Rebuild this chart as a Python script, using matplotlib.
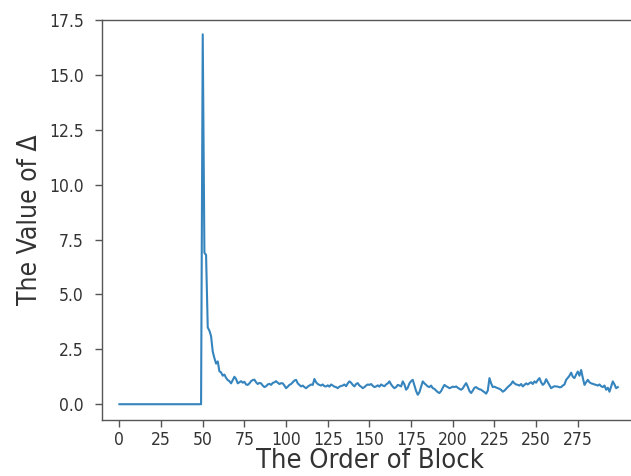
import matplotlib
matplotlib.use("Agg")
import matplotlib.pyplot as plt
import numpy as np

# Delta per block: flat until block 50, sharp spike, then a noisy plateau
delta_head = [0.0] * 50
delta_tail = [
    16.85, 6.9, 6.8, 3.5, 3.35, 3.1, 2.4, 2.1, 1.85, 1.95,
    1.5, 1.45, 1.3, 1.35, 1.2, 1.1, 1.05, 0.95, 1.1, 1.25,
    1.15, 0.95, 1.0, 1.05, 0.98, 1.02, 0.9, 0.88, 0.95, 1.05,
    1.1, 1.12, 1.0, 0.92, 0.97, 0.95, 0.85, 0.78, 0.82, 0.9,
    0.93, 0.88, 0.97, 1.0, 1.05, 0.98, 0.92, 0.96, 0.95, 0.85,
    0.73, 0.8, 0.88, 0.92, 1.0, 1.08, 1.11, 0.95, 0.88, 0.81,
    0.85, 0.78, 0.73, 0.8, 0.85, 0.9, 0.88, 1.15, 1.0, 0.92,
    0.88, 0.85, 0.9, 0.82, 0.81, 0.86, 0.8, 0.9, 0.85, 0.8,
    0.78, 0.73, 0.8, 0.83, 0.85, 0.9, 0.82, 0.95, 1.04, 0.98,
    0.88, 0.81, 0.92, 0.96, 0.85, 0.8, 0.73, 0.78, 0.85, 0.9,
    0.88, 0.92, 0.84, 0.78, 0.81, 0.86, 0.8, 0.9, 0.85, 0.82,
    0.9, 0.95, 1.04, 0.9, 0.8, 0.73, 0.78, 0.88, 0.85, 0.81,
    1.04, 0.9, 0.66, 0.75, 0.95, 1.05, 1.11, 0.85, 0.6, 0.43,
    0.55, 0.8, 1.04, 0.95, 0.88, 0.81, 0.78, 0.85, 0.73, 0.7,
    0.62, 0.55, 0.51, 0.6, 0.75, 0.88, 0.82, 0.78, 0.73, 0.76,
    0.8, 0.78, 0.81, 0.75, 0.7, 0.66, 0.72, 0.85, 0.96, 0.8,
    0.6, 0.51, 0.62, 0.75, 0.78, 0.72, 0.68, 0.66, 0.6, 0.55,
    0.48, 0.62, 1.19, 0.95, 0.78, 0.8, 0.76, 0.73, 0.7, 0.65,
    0.57, 0.62, 0.7, 0.78, 0.85, 0.92, 1.04, 0.95, 0.9, 0.88,
    0.85, 0.92, 0.81, 0.88, 0.95, 0.9, 0.96, 1.0, 0.92, 1.04,
    0.98, 1.1, 1.19, 1.0, 0.88, 0.95, 1.14, 1.0, 0.85, 0.73,
    0.78, 0.82, 0.81, 0.8, 0.77, 0.78, 0.85, 0.9, 1.11, 1.2,
    1.3, 1.44, 1.25, 1.19, 1.35, 1.49, 1.3, 1.56, 1.2, 0.88,
    1.0, 1.11, 1.0, 0.95, 0.93, 0.9, 0.88, 0.85, 0.9, 0.82,
    0.78, 0.85, 0.66, 0.75, 0.57, 0.8, 1.04, 0.9, 0.73, 0.78,
]
delta = delta_head + delta_tail
blocks = np.arange(len(delta))

x_ticks = list(range(0, 300, 25))
y_ticks = [0.0, 2.5, 5.0, 7.5, 10.0, 12.5, 15.0, 17.5]

font = dict(family="DejaVu Sans", stretch="condensed")

fig = plt.figure(figsize=(6.31, 4.76), dpi=100)
ax = fig.add_axes([0.1612, 0.1176, 0.8496, 0.8403])
ax.plot(blocks, delta, color="#2a7dba", lw=1.5, alpha=0.95)

ax.set_xlim(-10.6, 311)
ax.set_ylim(-0.72, 17.5)
ax.set_xticks(x_ticks)
ax.set_yticks(y_ticks)
ax.set_xticklabels([str(t) for t in x_ticks], fontsize=12.5, color="#333333", **font)
ax.set_yticklabels([f"{t:.1f}" for t in y_ticks], fontsize=12.5, color="#333333", **font)
ax.tick_params(length=5, width=1, color="#555555")
ax.tick_params(axis="y", pad=8)
ax.tick_params(axis="x", pad=3)
for s in ax.spines.values():
    s.set_color("#555555")
    s.set_linewidth(1.0)

ax.set_xlabel("The Order of Block", fontsize=19.5, color="#333333", labelpad=-1, **font)
ax.set_ylabel("The Value of Δ", fontsize=19, color="#333333", labelpad=4, **font)

fig.savefig("out.png", dpi=100)
